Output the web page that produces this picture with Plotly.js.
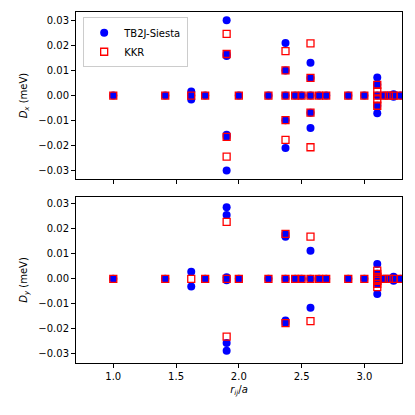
<!DOCTYPE html>
<html>
<head>
<meta charset="utf-8">
<script src="https://cdn.plot.ly/plotly-3.0.1.min.js"></script>
<style>
  html, body { margin: 0; padding: 0; background: #fff; }
  #plot { width: 415px; height: 415px; }
</style>
</head>
<body>
<div id="plot"></div>
<script>
// r_ij/a and Dx (meV), top panel
var tb2jDxR = [1.0, 1.414, 1.621, 1.621, 1.621, 1.732, 1.903, 1.903, 1.903, 1.903, 1.903, 1.903, 2.0, 2.236,
  2.372, 2.372, 2.372, 2.372, 2.372, 2.449, 2.5, 2.571, 2.571, 2.571, 2.571, 2.571, 2.64, 2.696, 2.872, 3.0,
  3.103, 3.103, 3.103, 3.103, 3.103, 3.155, 3.195, 3.233, 3.233, 3.29];
var tb2jDx = [0, 0, 0.0016, 0, -0.0016, 0, 0.0303, 0.0167, 0.0159, -0.0158, -0.0166, -0.0302, 0, 0,
  0.0211, 0.0101, 0, -0.0099, -0.0211, 0, 0, 0.0132, 0.0071, 0, -0.0069, -0.0131, 0, 0, 0, 0,
  0.0073, 0.0043, 0, -0.0041, -0.0071, 0, 0, 0.0005, -0.0005, 0];

var kkrDxR = [1.0, 1.414, 1.621, 1.732, 1.903, 1.903, 1.903, 1.903, 2.0, 2.236,
  2.372, 2.372, 2.372, 2.372, 2.372, 2.449, 2.5, 2.571, 2.571, 2.571, 2.571, 2.571, 2.64, 2.696, 2.872, 3.0,
  3.103, 3.103, 3.103, 3.103, 3.103, 3.155, 3.195, 3.233, 3.29];
var kkrDx = [0, 0, 0, 0, 0.0248, 0.0167, -0.0166, -0.0246, 0, 0,
  0.0179, 0.0101, 0, -0.0099, -0.0178, 0, 0, 0.021, 0.0071, 0, -0.0069, -0.0208, 0, 0, 0, 0,
  0.0043, 0.0017, 0, -0.0015, -0.0041, 0, 0, 0, 0];

// r_ij/a and Dy (meV), bottom panel
var tb2jDyR = [1.0, 1.414, 1.621, 1.621, 1.732, 1.903, 1.903, 1.903, 1.903, 1.903, 1.903, 2.0, 2.236,
  2.372, 2.372, 2.372, 2.372, 2.372, 2.449, 2.5, 2.571, 2.571, 2.571, 2.64, 2.696, 2.872, 3.0,
  3.103, 3.103, 3.103, 3.103, 3.103, 3.155, 3.195, 3.233, 3.233, 3.29];
var tb2jDy = [0, 0, 0.0029, -0.0031, 0, 0.0287, 0.0256, 0.0006, -0.0006, -0.0257, -0.0288, 0, 0,
  0.018, 0.0169, 0, -0.0167, -0.0177, 0, 0, 0.0113, 0, -0.0116, 0, 0, 0, 0,
  0.006, 0.002, 0, -0.002, -0.0061, 0, 0, 0.0008, -0.0008, 0];

var kkrDyR = [1.0, 1.414, 1.621, 1.732, 1.903, 1.903, 1.903, 2.0, 2.236,
  2.372, 2.372, 2.372, 2.449, 2.5, 2.571, 2.571, 2.571, 2.64, 2.696, 2.872, 3.0,
  3.103, 3.103, 3.103, 3.103, 3.103, 3.103, 3.103, 3.155, 3.195, 3.233, 3.29];
var kkrDy = [0, 0, 0, 0, 0.0228, 0, -0.0231, 0, 0,
  0.018, 0, -0.0177, 0, 0, 0.0169, 0, -0.0169, 0, 0, 0, 0,
  0.0033, 0.002, 0.0008, 0, -0.0008, -0.002, -0.0033, 0, 0, 0, 0];

var yTicks = [-0.03, -0.02, -0.01, 0, 0.01, 0.02, 0.03];

var blueDot = {symbol: 'circle', size: 8, color: 'blue'};
var redBox = {symbol: 'square-open', size: 7, color: 'red', line: {width: 1.3, color: 'red'}};

var data = [
  {x: tb2jDxR, y: tb2jDx, xaxis: 'x2', yaxis: 'y2', type: 'scatter', mode: 'markers',
   name: 'TB2J-Siesta', marker: blueDot},
  {x: kkrDxR, y: kkrDx, xaxis: 'x2', yaxis: 'y2', type: 'scatter', mode: 'markers',
   name: 'KKR', marker: redBox},
  {x: tb2jDyR, y: tb2jDy, type: 'scatter', mode: 'markers', showlegend: false, marker: blueDot},
  {x: kkrDyR, y: kkrDy, type: 'scatter', mode: 'markers', showlegend: false, marker: redBox}
];

var axisBase = {
  showline: true, mirror: true, linecolor: 'black', linewidth: 1,
  ticks: 'outside', ticklen: 4, tickwidth: 1, tickcolor: 'black',
  showgrid: false, zeroline: false,
  tickfont: {family: 'DejaVu Sans', size: 10, color: 'black'}
};

var layout = {
  width: 415, height: 415,
  margin: {l: 76, r: 13, t: 12, b: 52},
  paper_bgcolor: 'white', plot_bgcolor: 'white',
  font: {family: 'DejaVu Sans', size: 10, color: 'black'},
  xaxis: Object.assign({}, axisBase, {
    range: [0.703, 3.30], tickvals: [1.0, 1.5, 2.0, 2.5, 3.0], tickformat: '.1f',
    anchor: 'y',
    title: {text: '<i>r</i><sub><i>ij</i></sub>/<i>a</i>', font: {size: 10}, standoff: 4}
  }),
  yaxis: Object.assign({}, axisBase, {
    domain: [0, 0.473], range: [-0.0337, 0.0328], tickvals: yTicks, tickformat: '.2f',
    title: {text: '<i>D</i><sub><i>y</i></sub> (meV)', font: {size: 10}, standoff: 8}
  }),
  xaxis2: Object.assign({}, axisBase, {
    range: [0.703, 3.30], tickvals: [1.0, 1.5, 2.0, 2.5, 3.0], showticklabels: false,
    anchor: 'y2', matches: 'x'
  }),
  yaxis2: Object.assign({}, axisBase, {
    domain: [0.524, 1], range: [-0.0336, 0.0336], tickvals: yTicks, tickformat: '.2f',
    anchor: 'x2',
    title: {text: '<i>D</i><sub><i>x</i></sub> (meV)', font: {size: 10}, standoff: 8}
  }),
  showlegend: true,
  legend: {
    x: 0.022, y: 0.985, xanchor: 'left', yanchor: 'top',
    bgcolor: 'rgba(255,255,255,0.8)', bordercolor: '#cccccc', borderwidth: 1,
    font: {family: 'DejaVu Sans', size: 10, color: 'black'}
  }
};

Plotly.newPlot('plot', data, layout, {displayModeBar: false, staticPlot: true});
</script>
</body>
</html>
